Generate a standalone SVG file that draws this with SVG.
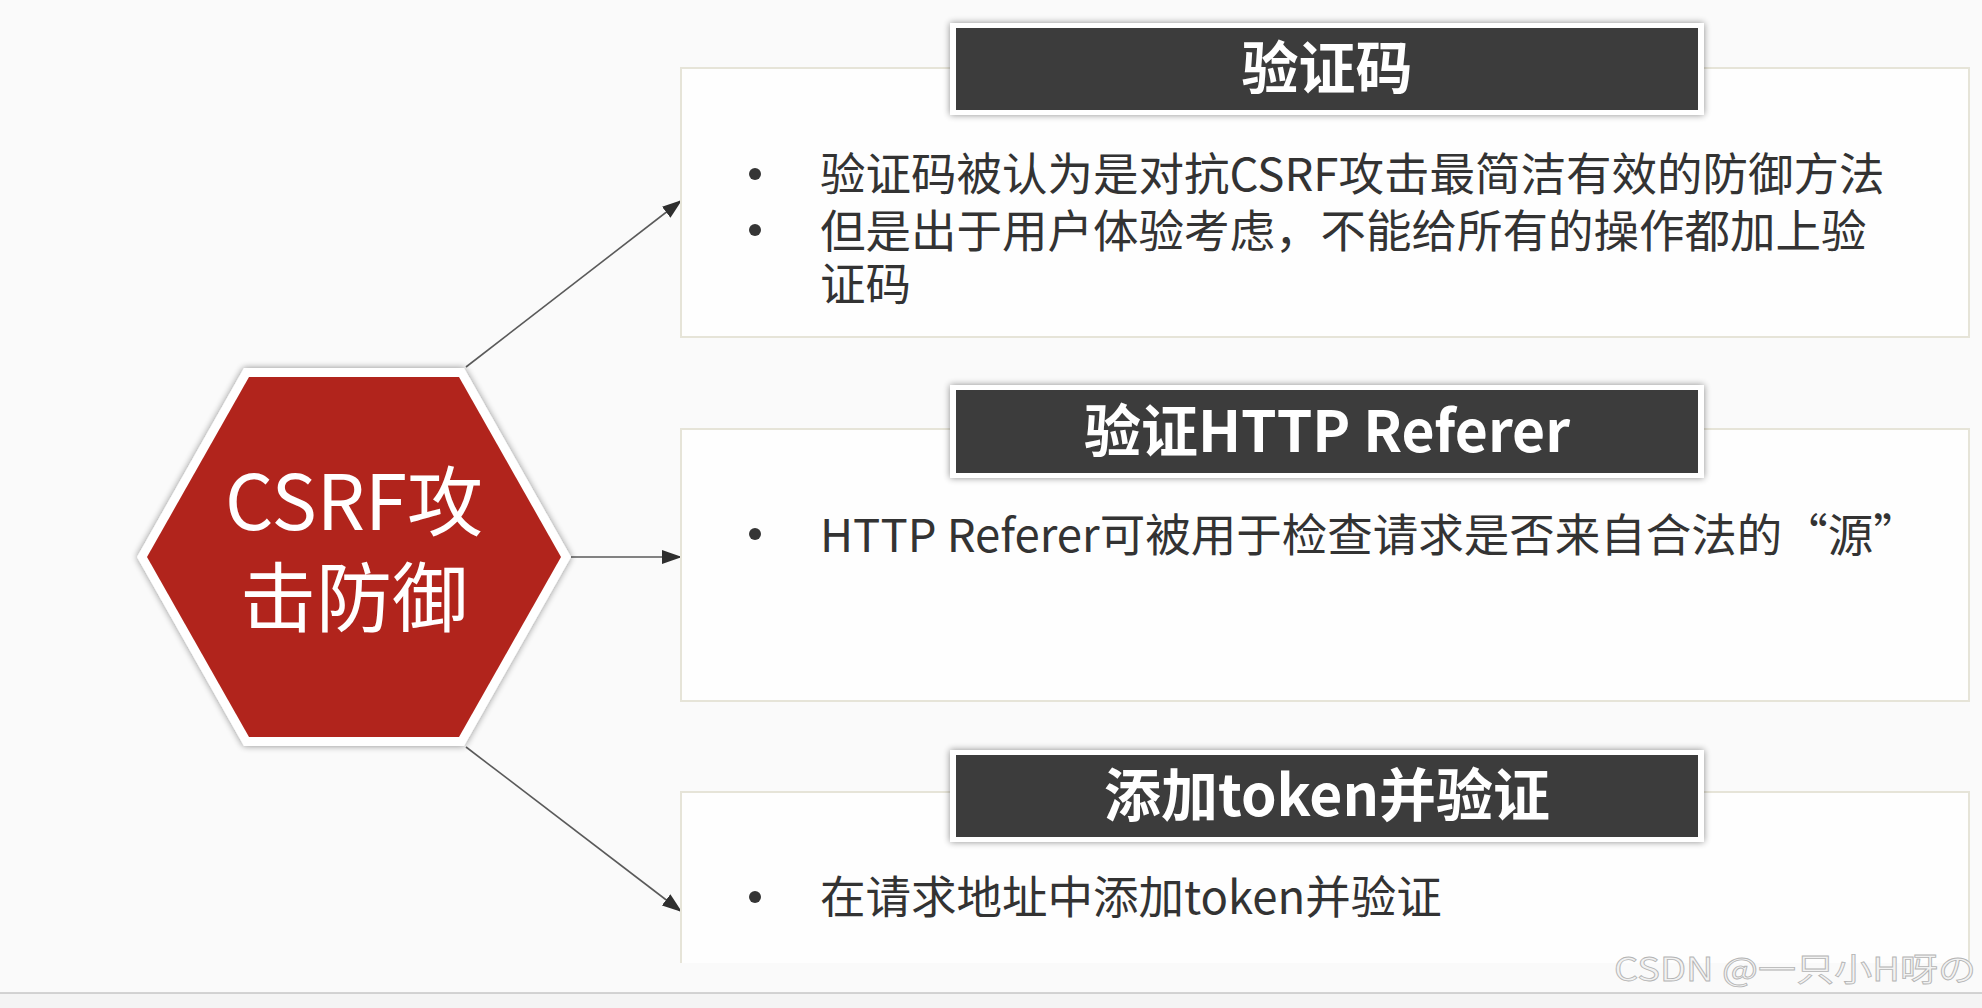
<svg xmlns="http://www.w3.org/2000/svg" width="1982" height="1008" viewBox="0 0 1982 1008">
  <style>
    .box { fill: #fefefe; stroke: #e6e4d8; stroke-width: 2; }
    .hdr-frame { fill: #ffffff; }
    .hdr { fill: #3c3c3c; }
    .hdr-text { font-family: "Noto Sans CJK SC", "Noto Sans", sans-serif; font-size: 57px; font-weight: bold; fill: #ffffff; text-anchor: middle; }
    .body { font-family: "Noto Sans CJK SC", "Noto Sans", sans-serif; font-size: 45.5px; fill: #333333; }
    .bullet { fill: #353535; }
    .hex-text { font-family: "Noto Sans CJK SC", "Noto Sans", sans-serif; font-size: 76px; fill: #ffffff; text-anchor: middle; }
    .conn { stroke: #5a5a5a; stroke-width: 1.6; fill: none; marker-end: url(#arrow); }
    .wm { font-family: "Noto Sans CJK SC", "Noto Sans", sans-serif; font-size: 32px; fill: #f2f2f2; stroke: #b4b4b4; stroke-width: 0.8; }
  </style>
  <defs>
    <marker id="arrow" viewBox="0 0 20 14" refX="20" refY="7" markerWidth="20" markerHeight="14" markerUnits="userSpaceOnUse" orient="auto">
      <path d="M0,0 L20,7 L0,14 z" fill="#2e2e2e"/>
    </marker>
    <filter id="shadow" x="-10%" y="-20%" width="120%" height="140%">
      <feGaussianBlur in="SourceAlpha" stdDeviation="3.5"/>
      <feComponentTransfer><feFuncA type="linear" slope="0.45"/></feComponentTransfer>
      <feMerge><feMergeNode/><feMergeNode in="SourceGraphic"/></feMerge>
    </filter>
  </defs>

  <rect x="0" y="0" width="1982" height="1008" fill="#fafafa"/>
  <rect x="0" y="993" width="1982" height="15" fill="#f4f4f4"/>
  <line x1="0" y1="993" x2="1982" y2="993" stroke="#c6c6c6" stroke-width="1.5"/>

  <g id="connectors">
    <line class="conn" x1="466" y1="367" x2="682" y2="200"/>
    <line class="conn" x1="571" y1="557" x2="682" y2="557"/>
    <line class="conn" x1="466" y1="747" x2="682" y2="912"/>
  </g>

  <g id="hexagon-csrf">
    <polygon points="137,557 244,368 464,368 571,557 464,746 244,746" fill="#ffffff" filter="url(#shadow)"/>
    <polygon points="147,557 249,377 459,377 561,557 459,737 249,737" fill="#b1241c"/>
    <text class="hex-text" x="354" y="530">CSRF攻</text>
    <text class="hex-text" x="354" y="626">击防御</text>
  </g>

  <g id="node-captcha">
    <rect class="box" x="681" y="68" width="1288" height="269"/>
    <rect class="hdr-frame" x="950" y="23" width="754" height="92" filter="url(#shadow)"/>
    <rect class="hdr" x="956" y="28" width="742" height="82"/>
    <text class="hdr-text" x="1327" y="89">验证码</text>
    <circle class="bullet" cx="755" cy="174" r="6"/>
    <circle class="bullet" cx="755" cy="230" r="6"/>
    <text class="body" x="820" y="191">验证码被认为是对抗CSRF攻击最简洁有效的防御方法</text>
    <text class="body" x="820" y="248">但是出于用户体验考虑，不能给所有的操作都加上验</text>
    <text class="body" x="820" y="301">证码</text>
  </g>

  <g id="node-referer">
    <rect class="box" x="681" y="429" width="1288" height="272"/>
    <rect class="hdr-frame" x="950" y="385" width="754" height="93" filter="url(#shadow)"/>
    <rect class="hdr" x="956" y="390" width="742" height="83"/>
    <text class="hdr-text" x="1327" y="452">验证HTTP Referer</text>
    <circle class="bullet" cx="755" cy="534" r="6"/>
    <text class="body" x="820" y="552">HTTP Referer可被用于检查请求是否来自合法的“源”</text>
  </g>

  <g id="node-token">
    <rect x="681" y="792" width="1288" height="171" fill="#fefefe"/>
    <path d="M681,963 V792 H1969 V963" fill="none" stroke="#e6e4d8" stroke-width="2"/>
    <rect class="hdr-frame" x="950" y="750" width="754" height="92" filter="url(#shadow)"/>
    <rect class="hdr" x="956" y="755" width="742" height="82"/>
    <text class="hdr-text" x="1327" y="816">添加token并验证</text>
    <circle class="bullet" cx="755" cy="897" r="6"/>
    <text class="body" x="820" y="914">在请求地址中添加token并验证</text>
  </g>

  <text class="wm" x="1614" y="981" textLength="362" lengthAdjust="spacingAndGlyphs">CSDN @一只小H呀の</text>
</svg>
